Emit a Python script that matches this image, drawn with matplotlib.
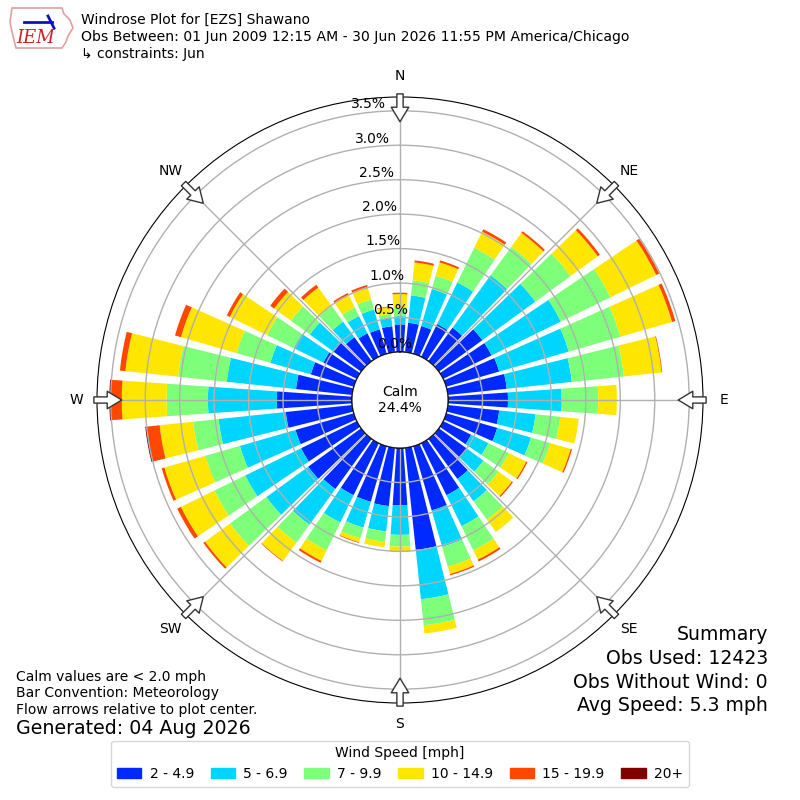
import numpy as np
import matplotlib
matplotlib.use("Agg")
import matplotlib.pyplot as plt
from matplotlib.patches import Circle, Polygon, Patch

# wind directions (deg, meteorological) and frequency (%) per speed bin
directions = np.arange(0, 360, 10)
bin_labels = ["2 - 4.9", "5 - 6.9", "7 - 9.9", "10 - 14.9", "15 - 19.9", "20+"]

spd_2_5 = [0.40, 0.43, 0.42, 0.53, 0.60, 0.78, 0.78, 0.80, 0.86, 0.87, 0.75, 0.77,
           0.45, 0.50, 0.72, 0.84, 0.97, 1.49, 0.83, 0.85, 0.84, 0.84, 0.90, 0.95,
           0.90, 0.88, 0.97, 1.09, 0.82, 0.65, 0.54, 0.51, 0.43, 0.38, 0.37, 0.38]
spd_5_7 = [0.12, 0.40, 0.56, 0.67, 0.94, 0.95, 1.12, 1.05, 0.95, 0.78, 0.53, 0.51,
           0.28, 0.30, 0.40, 0.50, 0.55, 0.72, 0.43, 0.37, 0.39, 0.44, 0.64, 0.75,
           0.90, 0.84, 0.98, 1.00, 1.01, 0.61, 0.48, 0.41, 0.28, 0.28, 0.30, 0.12]
spd_7_10 = [0.12, 0.22, 0.20, 0.56, 0.51, 0.63, 0.80, 0.78, 0.76, 0.53, 0.36, 0.29,
            0.33, 0.27, 0.33, 0.39, 0.30, 0.38, 0.17, 0.15, 0.16, 0.45, 0.32, 0.65,
            0.50, 0.52, 0.37, 0.60, 0.71, 0.51, 0.43, 0.34, 0.28, 0.14, 0.15, 0.06]
spd_10_15 = [0.20, 0.26, 0.20, 0.26, 0.25, 0.49, 0.74, 0.78, 0.55, 0.27, 0.27, 0.31,
             0.28, 0.24, 0.22, 0.15, 0.11, 0.12, 0.07, 0.08, 0.06, 0.17, 0.33, 0.45,
             0.54, 0.62, 0.49, 0.65, 0.77, 0.84, 0.60, 0.30, 0.33, 0.20, 0.19, 0.10]
spd_15_20 = [0.02, 0.03, 0.03, 0.04, 0.03, 0.04, 0.05, 0.05, 0.01, 0.00, 0.00, 0.02,
             0.02, 0.02, 0.00, 0.03, 0.02, 0.00, 0.00, 0.00, 0.01, 0.03, 0.01, 0.03,
             0.06, 0.04, 0.19, 0.15, 0.08, 0.09, 0.05, 0.07, 0.05, 0.03, 0.03, 0.01]
spd_20p = [0.00, 0.00, 0.00, 0.00, 0.00, 0.00, 0.00, 0.00, 0.00, 0.00, 0.00, 0.00,
           0.00, 0.00, 0.00, 0.00, 0.00, 0.00, 0.00, 0.00, 0.00, 0.00, 0.00, 0.00,
           0.00, 0.00, 0.02, 0.03, 0.00, 0.00, 0.00, 0.00, 0.00, 0.00, 0.00, 0.00]

calm_pct = 24.4
rticks = [0.0, 0.5, 1.0, 1.5, 2.0, 2.5, 3.0, 3.5]
compass = ["N", "NE", "E", "SE", "S", "SW", "W", "NW"]

series = [spd_2_5, spd_5_7, spd_7_10, spd_10_15, spd_15_20, spd_20p]
colors = plt.cm.jet(np.linspace(0, 1, 7))[1:]

fig = plt.figure(figsize=(8, 8), dpi=100)
ax = fig.add_axes([0.12125, 0.12125, 0.7575, 0.7575], projection="polar")
ax.set_theta_zero_location("N")
ax.set_theta_direction(-1)

theta = np.deg2rad(directions)
base = np.zeros(len(directions))
for vals, c in zip(series, colors):
    vals = np.array(vals)
    ax.bar(theta, vals, width=np.deg2rad(8), bottom=base, color=c,
           edgecolor="none", zorder=1)
    base += vals

rmax = 3.70
ax.set_ylim(0, rmax)
ax.set_rorigin(-0.697)
ax.set_yticks(rticks)
ax.set_yticklabels([])
ax.set_xticks(np.deg2rad(np.arange(0, 360, 45)))
ax.set_xticklabels([])
ax.tick_params(length=0)
ax.grid(True, color="#b0b0b0", lw=1)

# radial labels
for r in rticks:
    ax.text(np.deg2rad(-6), r + 0.116, "%.1f%%" % r, ha="center", va="center",
            fontsize=10, zorder=6)

# compass labels and flow arrows
for ang, lab in zip(np.arange(0, 360, 45), compass):
    ax.text(np.deg2rad(ang), 4.006, lab, ha="center", va="center",
            fontsize=10, clip_on=False)
    ax.annotate("", xy=(np.deg2rad(ang), 3.34), xytext=(np.deg2rad(ang), 3.745),
                arrowprops=dict(arrowstyle="simple,head_length=0.75,head_width=0.9,tail_width=0.32",
                                fc="white", ec="#333333", lw=1, shrinkA=0, shrinkB=0,
                                mutation_scale=14),
                annotation_clip=False, zorder=7)

# calm circle
ax.add_patch(Circle((0.5, 0.5), 48 / 606, transform=ax.transAxes, fc="white",
                    ec="black", lw=1, zorder=5))
ax.text(0.5, 0.5, "Calm\n%.1f%%" % calm_pct, transform=ax.transAxes,
        ha="center", va="center", fontsize=10, zorder=6)

# header
fig.text(81 / 800, 1 - 20 / 800, "Windrose Plot for [EZS] Shawano", fontsize=10, va="center")
fig.text(81 / 800, 1 - 37 / 800,
         "Obs Between: 01 Jun 2009 12:15 AM - 30 Jun 2026 11:55 PM America/Chicago",
         fontsize=10.1, va="center")
fig.text(81 / 800, 1 - 54 / 800, "\u21b3 constraints: Jun", fontsize=10, va="center")

# logo (rough)
iowa = np.array([(12, 8), (62, 8), (64, 14), (70, 20), (73, 28), (68, 36), (66, 42),
                 (62, 48), (16, 48), (14, 40), (12, 32), (10, 22)])
fig.patches.append(Polygon(np.column_stack([iowa[:, 0] / 800, 1 - iowa[:, 1] / 800]),
                           closed=True, fc="white", ec="#e0a0a0", lw=1.2,
                           transform=fig.transFigure))
fig.text(36 / 800, 1 - 38 / 800, "IEM", color="#d02020", fontsize=13,
         family="DejaVu Serif", style="italic", ha="center", va="center")
fig.lines.append(plt.Line2D([24 / 800, 52 / 800], [1 - 22 / 800, 1 - 22 / 800],
                            color="#1010c0", lw=2, transform=fig.transFigure))
fig.lines.append(plt.Line2D([48 / 800, 54 / 800], [1 - 16 / 800, 1 - 28 / 800],
                            color="#1010c0", lw=2, transform=fig.transFigure))

# bottom-left notes
fig.text(16 / 800, 1 - 677 / 800, "Calm values are < 2.0 mph", fontsize=10, va="center")
fig.text(16 / 800, 1 - 693 / 800, "Bar Convention: Meteorology", fontsize=10, va="center")
fig.text(16 / 800, 1 - 710 / 800, "Flow arrows relative to plot center.", fontsize=10, va="center")
fig.text(16 / 800, 1 - 729 / 800, "Generated: 04 Aug 2026", fontsize=13.7, va="center")

# summary
summary = ["Summary", "Obs Used: 12423", "Obs Without Wind: 0", "Avg Speed: 5.3 mph"]
for i, s in enumerate(summary):
    fig.text(768 / 800, 1 - (635 + 23.5 * i) / 800, s, fontsize=13.6, ha="right", va="center")

handles = [Patch(color=c) for c in colors]
fig.legend(handles, bin_labels, loc="lower center", bbox_to_anchor=(0.5, 0.008),
           ncol=6, title="Wind Speed [mph]", fontsize=10, title_fontsize=10,
           handlelength=1.75, handletextpad=0.6, columnspacing=1.2)

fig.savefig("out.png", dpi=100)
